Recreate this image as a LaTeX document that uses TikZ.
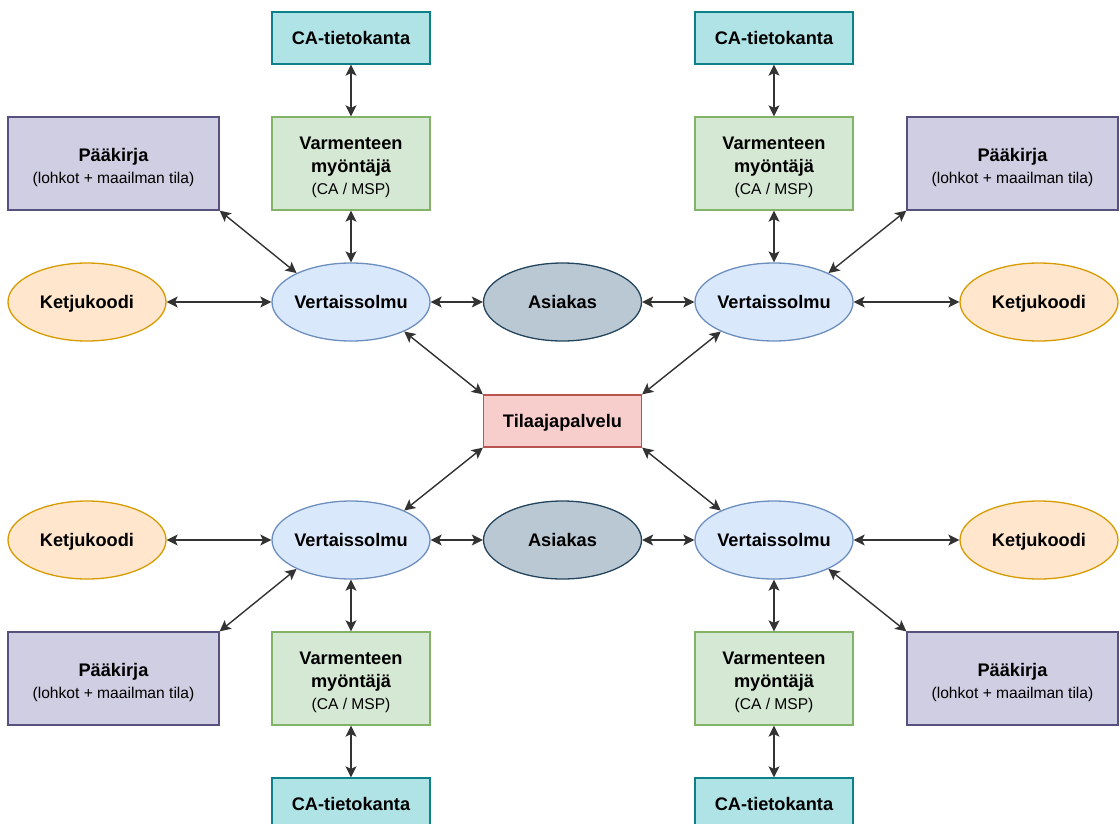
\documentclass[tikz,border=0pt]{standalone}
\usepackage{fontspec}
\setmainfont{Liberation Sans}
\usetikzlibrary{shapes.geometric,arrows.meta}
\definecolor{cafill}{HTML}{B0E3E6}
\definecolor{castroke}{HTML}{0E8088}
\definecolor{vmfill}{HTML}{D5E8D4}
\definecolor{vmstroke}{HTML}{82B366}
\definecolor{pkfill}{HTML}{D0CEE2}
\definecolor{pkstroke}{HTML}{56517E}
\definecolor{kkfill}{HTML}{FFE6CC}
\definecolor{kkstroke}{HTML}{D79B00}
\definecolor{vsfill}{HTML}{DAE8FC}
\definecolor{vsstroke}{HTML}{6C8EBF}
\definecolor{asfill}{HTML}{BAC8D3}
\definecolor{asstroke}{HTML}{23445D}
\definecolor{tpfill}{HTML}{F8CECC}
\definecolor{tpstroke}{HTML}{B85450}
\definecolor{linec}{HTML}{333333}
\newcommand{\subtxt}[1]{{\fontsize{15.6}{22.5}\selectfont\mdseries #1}}
\newcommand{\toprule}{\rule{0pt}{21pt}}
\newcommand{\mystrut}{\rule[-4.5pt]{0pt}{22pt}}
\newcommand{\etxt}[1]{\makebox[80pt]{\mystrut #1}}
\tikzset{
  base/.style={draw, line width=1.3pt, inner sep=2pt, align=center, text=black,
    font=\fontsize{18.2}{22.5}\selectfont\bfseries},
  box/.style={base, rectangle, minimum width=158pt, minimum height=52pt},
  ell/.style={base, ellipse, minimum width=158pt, minimum height=78pt, inner sep=0pt},
  canode/.style={box, fill=cafill, draw=castroke},
  vmnode/.style={box, fill=vmfill, draw=vmstroke, minimum height=93pt},
  pknode/.style={box, fill=pkfill, draw=pkstroke, minimum width=211pt, minimum height=93pt},
  kknode/.style={ell, fill=kkfill, draw=kkstroke},
  vsnode/.style={ell, fill=vsfill, draw=vsstroke},
  asnode/.style={ell, fill=asfill, draw=asstroke},
  tpnode/.style={box, fill=tpfill, draw=tpstroke},
  conn/.style={draw=linec, line width=1.4pt,
    {Stealth[length=11pt,width=11pt,inset=2.5pt]}-{Stealth[length=11pt,width=11pt,inset=2.5pt]}}
}
\begin{document}
\begin{tikzpicture}[x=1pt,y=-1pt]
\useasboundingbox (0,0) rectangle (1120,823);
\clip (0,0) rectangle (1120,823);
% top-left group
\node[canode] (ca1) at (351,38) {\mystrut CA-tietokanta};
\node[vmnode] (vm1) at (351,163.5) {\toprule Varmenteen\\myöntäjä\\\subtxt{(CA / MSP)}};
\node[pknode] (pk1) at (113.5,163.5) {\toprule Pääkirja\\\subtxt{(lohkot + maailman tila)}};
\node[kknode] (kk1) at (87,302) {\etxt{Ketjukoodi}};
\node[vsnode] (vs1) at (351,302) {\etxt{Vertaissolmu}};
% top-right group
\node[canode] (ca2) at (774,38) {\mystrut CA-tietokanta};
\node[vmnode] (vm2) at (774,163.5) {\toprule Varmenteen\\myöntäjä\\\subtxt{(CA / MSP)}};
\node[pknode] (pk2) at (1012.5,163.5) {\toprule Pääkirja\\\subtxt{(lohkot + maailman tila)}};
\node[kknode] (kk2) at (1039,302) {\etxt{Ketjukoodi}};
\node[vsnode] (vs2) at (774,302) {\etxt{Vertaissolmu}};
% centre
\node[asnode] (as1) at (562.5,302) {\etxt{Asiakas}};
\node[tpnode] (tp) at (562.5,421) {\mystrut Tilaajapalvelu};
\node[asnode] (as2) at (562.5,540) {\etxt{Asiakas}};
% bottom-left group
\node[kknode] (kk3) at (87,540) {\etxt{Ketjukoodi}};
\node[vsnode] (vs3) at (351,540) {\etxt{Vertaissolmu}};
\node[vmnode] (vm3) at (351,678.5) {\toprule Varmenteen\\myöntäjä\\\subtxt{(CA / MSP)}};
\node[pknode] (pk3) at (113.5,678.5) {\toprule Pääkirja\\\subtxt{(lohkot + maailman tila)}};
\node[canode] (ca3) at (351,804) {\mystrut CA-tietokanta};
% bottom-right group
\node[kknode] (kk4) at (1039,540) {\etxt{Ketjukoodi}};
\node[vsnode] (vs4) at (774,540) {\etxt{Vertaissolmu}};
\node[vmnode] (vm4) at (774,678.5) {\toprule Varmenteen\\myöntäjä\\\subtxt{(CA / MSP)}};
\node[pknode] (pk4) at (1012.5,678.5) {\toprule Pääkirja\\\subtxt{(lohkot + maailman tila)}};
\node[canode] (ca4) at (774,804) {\mystrut CA-tietokanta};
% connectors
\path[conn] (ca1) -- (vm1);
\path[conn] (vm1) -- (vs1);
\path[conn] (pk1.south east) -- (vs1.152);
\path[conn] (kk1) -- (vs1);
\path[conn] (vs1) -- (as1);
\path[conn] (tp.north west) -- (vs1.-29);
\path[conn] (ca2) -- (vm2);
\path[conn] (vm2) -- (vs2);
\path[conn] (pk2.south west) -- (vs2.28);
\path[conn] (kk2) -- (vs2);
\path[conn] (as1) -- (vs2);
\path[conn] (tp.north east) -- (vs2.209);
\path[conn] (tp.south west) -- (vs3.29);
\path[conn] (tp.south east) -- (vs4.151);
\path[conn] (kk3) -- (vs3);
\path[conn] (vs3) -- (as2);
\path[conn] (as2) -- (vs4);
\path[conn] (kk4) -- (vs4);
\path[conn] (vs3) -- (vm3);
\path[conn] (vm3) -- (ca3);
\path[conn] (pk3.north east) -- (vs3.208);
\path[conn] (vs4) -- (vm4);
\path[conn] (vm4) -- (ca4);
\path[conn] (pk4.north west) -- (vs4.-28);
\end{tikzpicture}
\end{document}
